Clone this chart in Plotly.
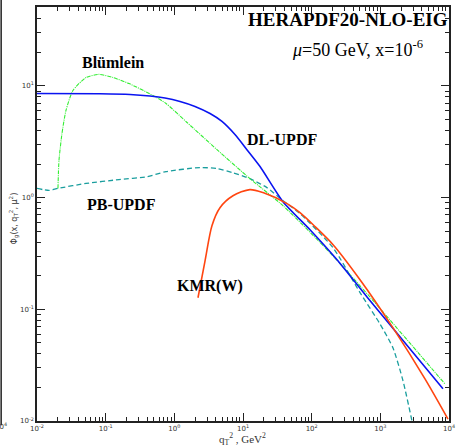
import plotly.graph_objects as go

# DL-UPDF (blue)
dl_q2 = [0.01, 0.0826, 0.226, 0.443, 0.731, 1.21, 2.00, 3.31, 4.94, 7.64, 11.4, 17.7,
         38.2, 94.6, 234, 640, 8170]
dl_phi = [8.57, 8.51, 8.39, 8.13, 7.80, 7.26, 6.55, 5.66, 4.81, 3.67, 2.69, 1.90,
          0.921, 0.516, 0.278, 0.129, 0.0194]

# Blümlein (green)
bl_q2 = [0.0202, 0.0209, 0.0231, 0.0264, 0.0334, 0.0518, 0.080, 0.128, 0.219, 0.489, 0.757,
         1.53, 4.18, 12.6, 38.2, 185, 706, 8730]
bl_phi = [1.21, 2.15, 3.75, 6.03, 9.12, 11.9, 12.7, 11.9, 10.5, 8.22, 6.97,
          4.71, 2.69, 1.48, 0.847, 0.321, 0.129, 0.0215]

# PB-UPDF (teal dashed)
pb_q2 = [0.01, 0.015, 0.0202, 0.0518, 0.156, 0.400, 0.757, 2.37, 4.18, 7.14, 12.6, 22.3,
         38.2, 67.6, 205, 506, 989, 1530, 2140, 2890, 3090]
pb_phi = [1.21, 1.16, 1.21, 1.34, 1.45, 1.54, 1.71, 1.86, 1.82, 1.67, 1.48, 1.23,
          0.94, 0.72, 0.356, 0.141, 0.074, 0.045, 0.0229, 0.010, 0.0081]

# KMR(W) (red)
kmr_q2 = [2.21, 2.80, 3.53, 4.62, 7.14, 12.6, 19.5, 43.8, 67.6, 112, 205, 506, 1530, 4470, 9660]
kmr_phi = [0.127, 0.272, 0.561, 0.813, 1.04, 1.18, 1.11, 0.883, 0.733, 0.550, 0.379, 0.184,
           0.0682, 0.0238, 0.0104]

x_decades = [-2, -1, 0, 1, 2, 3, 4]
y_decades = [-2, -1, 0, 1, 2]
x_tick_text = ["10<sup>-2</sup>", "10<sup>-1</sup>", "10<sup>0</sup>", "10<sup>1</sup>",
               "10<sup>2</sup>", "10<sup>3</sup>", "10<sup>4</sup>"]
y_tick_text = ["10<sup>-2</sup>", "10<sup>-1</sup>", "10<sup>0</sup>", "10<sup>1</sup>", ""]

x_major = [10.0 ** d for d in x_decades]
y_major = [10.0 ** d for d in y_decades]
x_minor = [m * 10.0 ** d for d in x_decades[:-1] for m in range(2, 10)]
y_minor = [m * 10.0 ** d for d in y_decades[:-1] for m in range(2, 10)]

fig = go.Figure()
fig.add_trace(go.Scatter(x=pb_q2, y=pb_phi, mode="lines",
                         line=dict(color="#1a9e9e", width=1.3, dash="5px,3px", shape="spline", smoothing=0.6)))
fig.add_trace(go.Scatter(x=bl_q2, y=bl_phi, mode="lines",
                         line=dict(color="#33ee33", width=1.1, dash="4px,1px,1px,1px", shape="spline", smoothing=0.6)))
fig.add_trace(go.Scatter(x=dl_q2, y=dl_phi, mode="lines",
                         line=dict(color="#0a14f0", width=1.6, shape="spline", smoothing=0.6)))
fig.add_trace(go.Scatter(x=kmr_q2, y=kmr_phi, mode="lines",
                         line=dict(color="#ff4510", width=1.6, shape="spline", smoothing=0.8)))

tickfont = dict(family="DejaVu Sans", size=7, color="#333333")
common = dict(type="log", ticks="inside", ticklen=8, tickwidth=1, tickcolor="#222", mirror="ticks",
              showline=True, linecolor="#222", linewidth=1.5, showgrid=False, zeroline=False,
              tickfont=tickfont, automargin=False)
fig.update_xaxes(range=[-2, 4], tickmode="array", tickvals=x_major, ticktext=x_tick_text,
                 minor=dict(ticks="inside", ticklen=4, tickcolor="#222", showgrid=False,
                            tickmode="array", tickvals=x_minor),
                 **common)
fig.update_yaxes(range=[-2, 1.707], tickmode="array", tickvals=y_major, ticktext=y_tick_text,
                 minor=dict(ticks="inside", ticklen=4, tickcolor="#222", showgrid=False,
                            tickmode="array", tickvals=y_minor),
                 **common)

serif = "Liberation Serif"
ann = [
    dict(text="<b>HERAPDF20-NLO-EIG</b>", x=1.003, y=0.969, xanchor="right", yanchor="middle",
         font=dict(family=serif, size=19, color="black")),
    dict(text="<i>μ</i>=50 GeV, x=10<sup>-6</sup>", x=0.942, y=0.900, xanchor="right", yanchor="middle",
         font=dict(family=serif, size=18, color="black")),
    dict(text="<b>Blümlein</b>", x=0.104, y=0.867, xanchor="left", yanchor="middle",
         font=dict(family=serif, size=16, color="black")),
    dict(text="<b>DL-UPDF</b>", x=0.505, y=0.679, xanchor="left", yanchor="middle",
         font=dict(family=serif, size=16, color="black")),
    dict(text="<b>PB-UPDF</b>", x=0.117, y=0.524, xanchor="left", yanchor="middle",
         font=dict(family=serif, size=16, color="black")),
    dict(text="<b>KMR(W)</b>", x=0.335, y=0.326, xanchor="left", yanchor="middle",
         font=dict(family=serif, size=16, color="black")),
    dict(text="q<sub>T</sub><sup>2</sup> , GeV<sup>2</sup>", x=0.498, y=-0.044,
         xanchor="center", yanchor="middle",
         font=dict(family=serif, size=11, color="#333")),
    dict(text="Φ<sub>g</sub>(x, q<sub>T</sub><sup>2</sup>, μ<sup>2</sup>)", x=-0.055, y=0.49,
         xanchor="center", yanchor="middle", textangle=-90,
         font=dict(family="DejaVu Sans", size=8, color="#333")),
    dict(text="10<sup>4</sup>", x=-0.068, y=-0.012, xanchor="right", yanchor="middle",
         font=dict(family="DejaVu Sans", size=7, color="#333")),
]
for a in ann:
    a.update(xref="paper", yref="paper", showarrow=False)
fig.update_layout(annotations=ann)

fig.add_shape(type="line", xref="paper", yref="paper", x0=-0.087, x1=-0.087, y0=-0.01, y1=1.02,
              line=dict(color="#222", width=1.5))

fig.update_layout(width=456, height=446, margin=dict(l=37, r=7, t=7, b=25, autoexpand=False),
                  paper_bgcolor="white", plot_bgcolor="white", showlegend=False)

fig.write_html("out.html", config={"displayModeBar": False},
               post_script="document.body.style.margin='0px';")
